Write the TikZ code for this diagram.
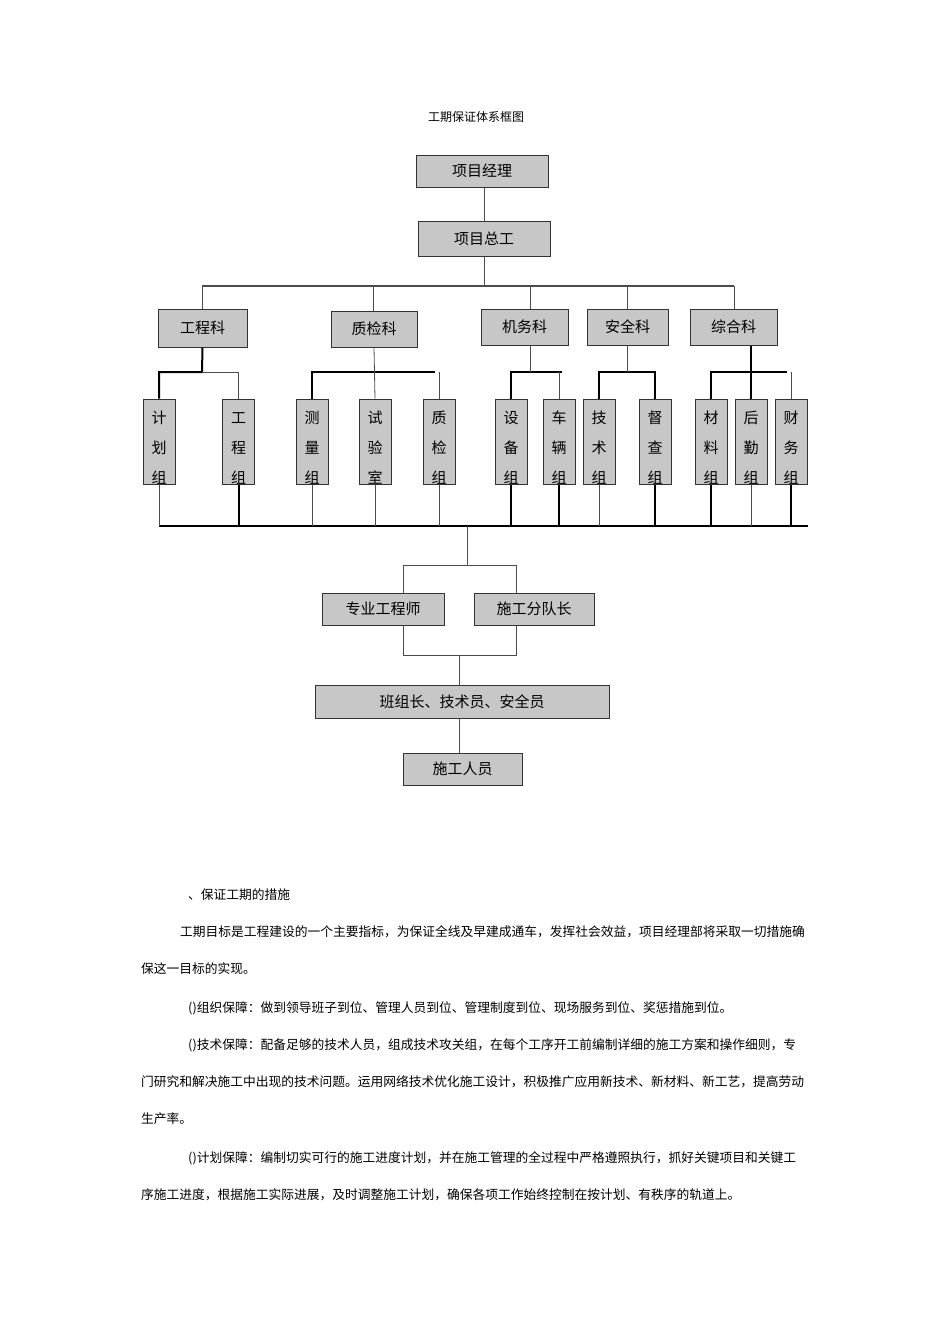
\documentclass[tikz,border=0pt]{standalone}
\usepackage{fontspec}
\newfontfamily\cjk{Noto Sans CJK SC}
\begin{document}
\begin{tikzpicture}[x=1pt,y=-1pt,
  bx/.style={draw=black!80,line width=1pt,fill=black!22,inner sep=0pt,font=\cjk\fontsize{15}{17}\selectfont},
  vb/.style={draw=black!80,line width=1pt,fill=black!22,inner sep=0pt,minimum width=32,minimum height=85},
  vt/.style={inner sep=0pt,font=\cjk\fontsize{15}{30}\selectfont,align=center},
  ln/.style={line width=0.8pt,black!70},
  tk/.style={line width=2pt},
  tx/.style={anchor=west,inner sep=0pt,font=\cjk\fontsize{12.75}{14}\selectfont}]
\useasboundingbox (0,0) rectangle (950,1344);
\fill[white] (0,0) rectangle (950,1344);
\node[font=\cjk\fontsize{12}{14}\selectfont] (title) at (476,117) {工期保证体系框图};
% top
\node[bx,minimum width=132,minimum height=32] (pm) at (482,171) {项目经理};
\node[bx,minimum width=132,minimum height=35] (ce) at (484,238.5) {项目总工};
\draw[ln] (pm.south -| 484,0) -- (ce);
\coordinate (t1) at (484,286);
\draw[ln] (ce) -- (t1);
\node[bx,minimum width=89,minimum height=38] (d1) at (202.5,328) {工程科};
\node[bx,minimum width=86,minimum height=36] (d2) at (374,329) {质检科};
\node[bx,minimum width=87,minimum height=36] (d3) at (524.5,327) {机务科};
\node[bx,minimum width=81,minimum height=36] (d4) at (627.5,327) {安全科};
\node[bx,minimum width=87,minimum height=36] (d5) at (733.5,327) {综合科};
\draw[ln,line width=1.2pt] (202,286) -- (734,286);
\foreach \n/\x in {d1/202,d2/373,d3/530,d4/627,d5/734}{\draw[ln] (\x,286) -- (\n.north -| \x,0);}
% groups
\foreach \n/\x/\t in {g1/159/计\\划\\组,g2/238.5/工\\程\\组,g3/312/测\\量\\组,g4/375/试\\验\\室,g5/439/质\\检\\组,
  g6/511/设\\备\\组,g7/559/车\\辆\\组,g8/599/技\\术\\组,g9/655/督\\查\\组,g10/711/材\\料\\组,g11/751/后\\勤\\组,g12/791/财\\务\\组}
  {\node[vb] (\n) at (\x,441.5) {};
   \node[vt] (\n t) at (\x,448) {\t};}
\draw[tk] (g1.north) |- (202,372) -- (d1.south);
\draw[ln] (202,372) -| (g2.north);
\draw[tk] (g3.north) |- (435,372);
\draw[ln] (d2.south) -- (g4.north);
\draw[ln] (g5.north) -- (439,372);
\draw[tk] (g6.north) |- (562,372);
\draw[ln] (d3.south -| g6.north) ++(19,0) -- (530,372);
\draw[ln] (g7.north) -- (559,372);
\draw[tk] (g8.north) |- (655,372) -- (g9.north);
\draw[ln] (d4.south -| 627,0) -- (627,372);
\draw[tk] (g10.north) |- (787,372);
\draw[ln] (g12.north) -- (791,372);
\draw[tk] (d5.south -| g11.north) -- (g11.north);
% bottom bus
\draw[tk] (159,526) -- (808,526);
\foreach \n in {g1,g3,g4,g5,g8,g11}{\draw[ln] (\n.south) -- (\n.south |- 0,526);}
\foreach \n in {g2,g6,g7,g9,g10,g12}{\draw[tk] (\n.south) -- (\n.south |- 0,526);}
\node[bx,minimum width=122,minimum height=32] (e1) at (383,609) {专业工程师};
\node[bx,minimum width=120,minimum height=32] (e2) at (534,609) {施工分队长};
\draw[ln] (467,526) -- (467,565);
\draw[ln] (e1.north -| 403,0) |- (516,565) -- (e2.north -| 516,0);
\node[bx,minimum width=294,minimum height=33] (f) at (462,701.5) {班组长、技术员、安全员};
\draw[ln] (e1.south -| 403,0) |- (516,655) -- (e2.south -| 516,0);
\draw[ln] (459,655) -- (f.north -| 459,0);
\node[bx,minimum width=119,minimum height=32] (w) at (462.5,769) {施工人员};
\draw[ln] (f.south -| 459,0) -- (w.north -| 459,0);
% text
\node[tx] (p0) at (188,895) {、保证工期的措施};
\node[tx] (p1) at (180,932) {工期目标是工程建设的一个主要指标，为保证全线及早建成通车，发挥社会效益，项目经理部将采取一切措施确};
\node[tx] (p2) at (141,969) {保这一目标的实现。};
\node[tx] (p3) at (188,1008) {()组织保障：做到领导班子到位、管理人员到位、管理制度到位、现场服务到位、奖惩措施到位。};
\node[tx] (p4) at (188,1045) {()技术保障：配备足够的技术人员，组成技术攻关组，在每个工序开工前编制详细的施工方案和操作细则，专};
\node[tx] (p5) at (141,1082) {门研究和解决施工中出现的技术问题。运用网络技术优化施工设计，积极推广应用新技术、新材料、新工艺，提高劳动};
\node[tx] (p6) at (141,1119) {生产率。};
\node[tx] (p7) at (188,1158) {()计划保障：编制切实可行的施工进度计划，并在施工管理的全过程中严格遵照执行，抓好关键项目和关键工};
\node[tx] (p8) at (141,1195) {序施工进度，根据施工实际进展，及时调整施工计划，确保各项工作始终控制在按计划、有秩序的轨道上。};
\end{tikzpicture}
\end{document}
